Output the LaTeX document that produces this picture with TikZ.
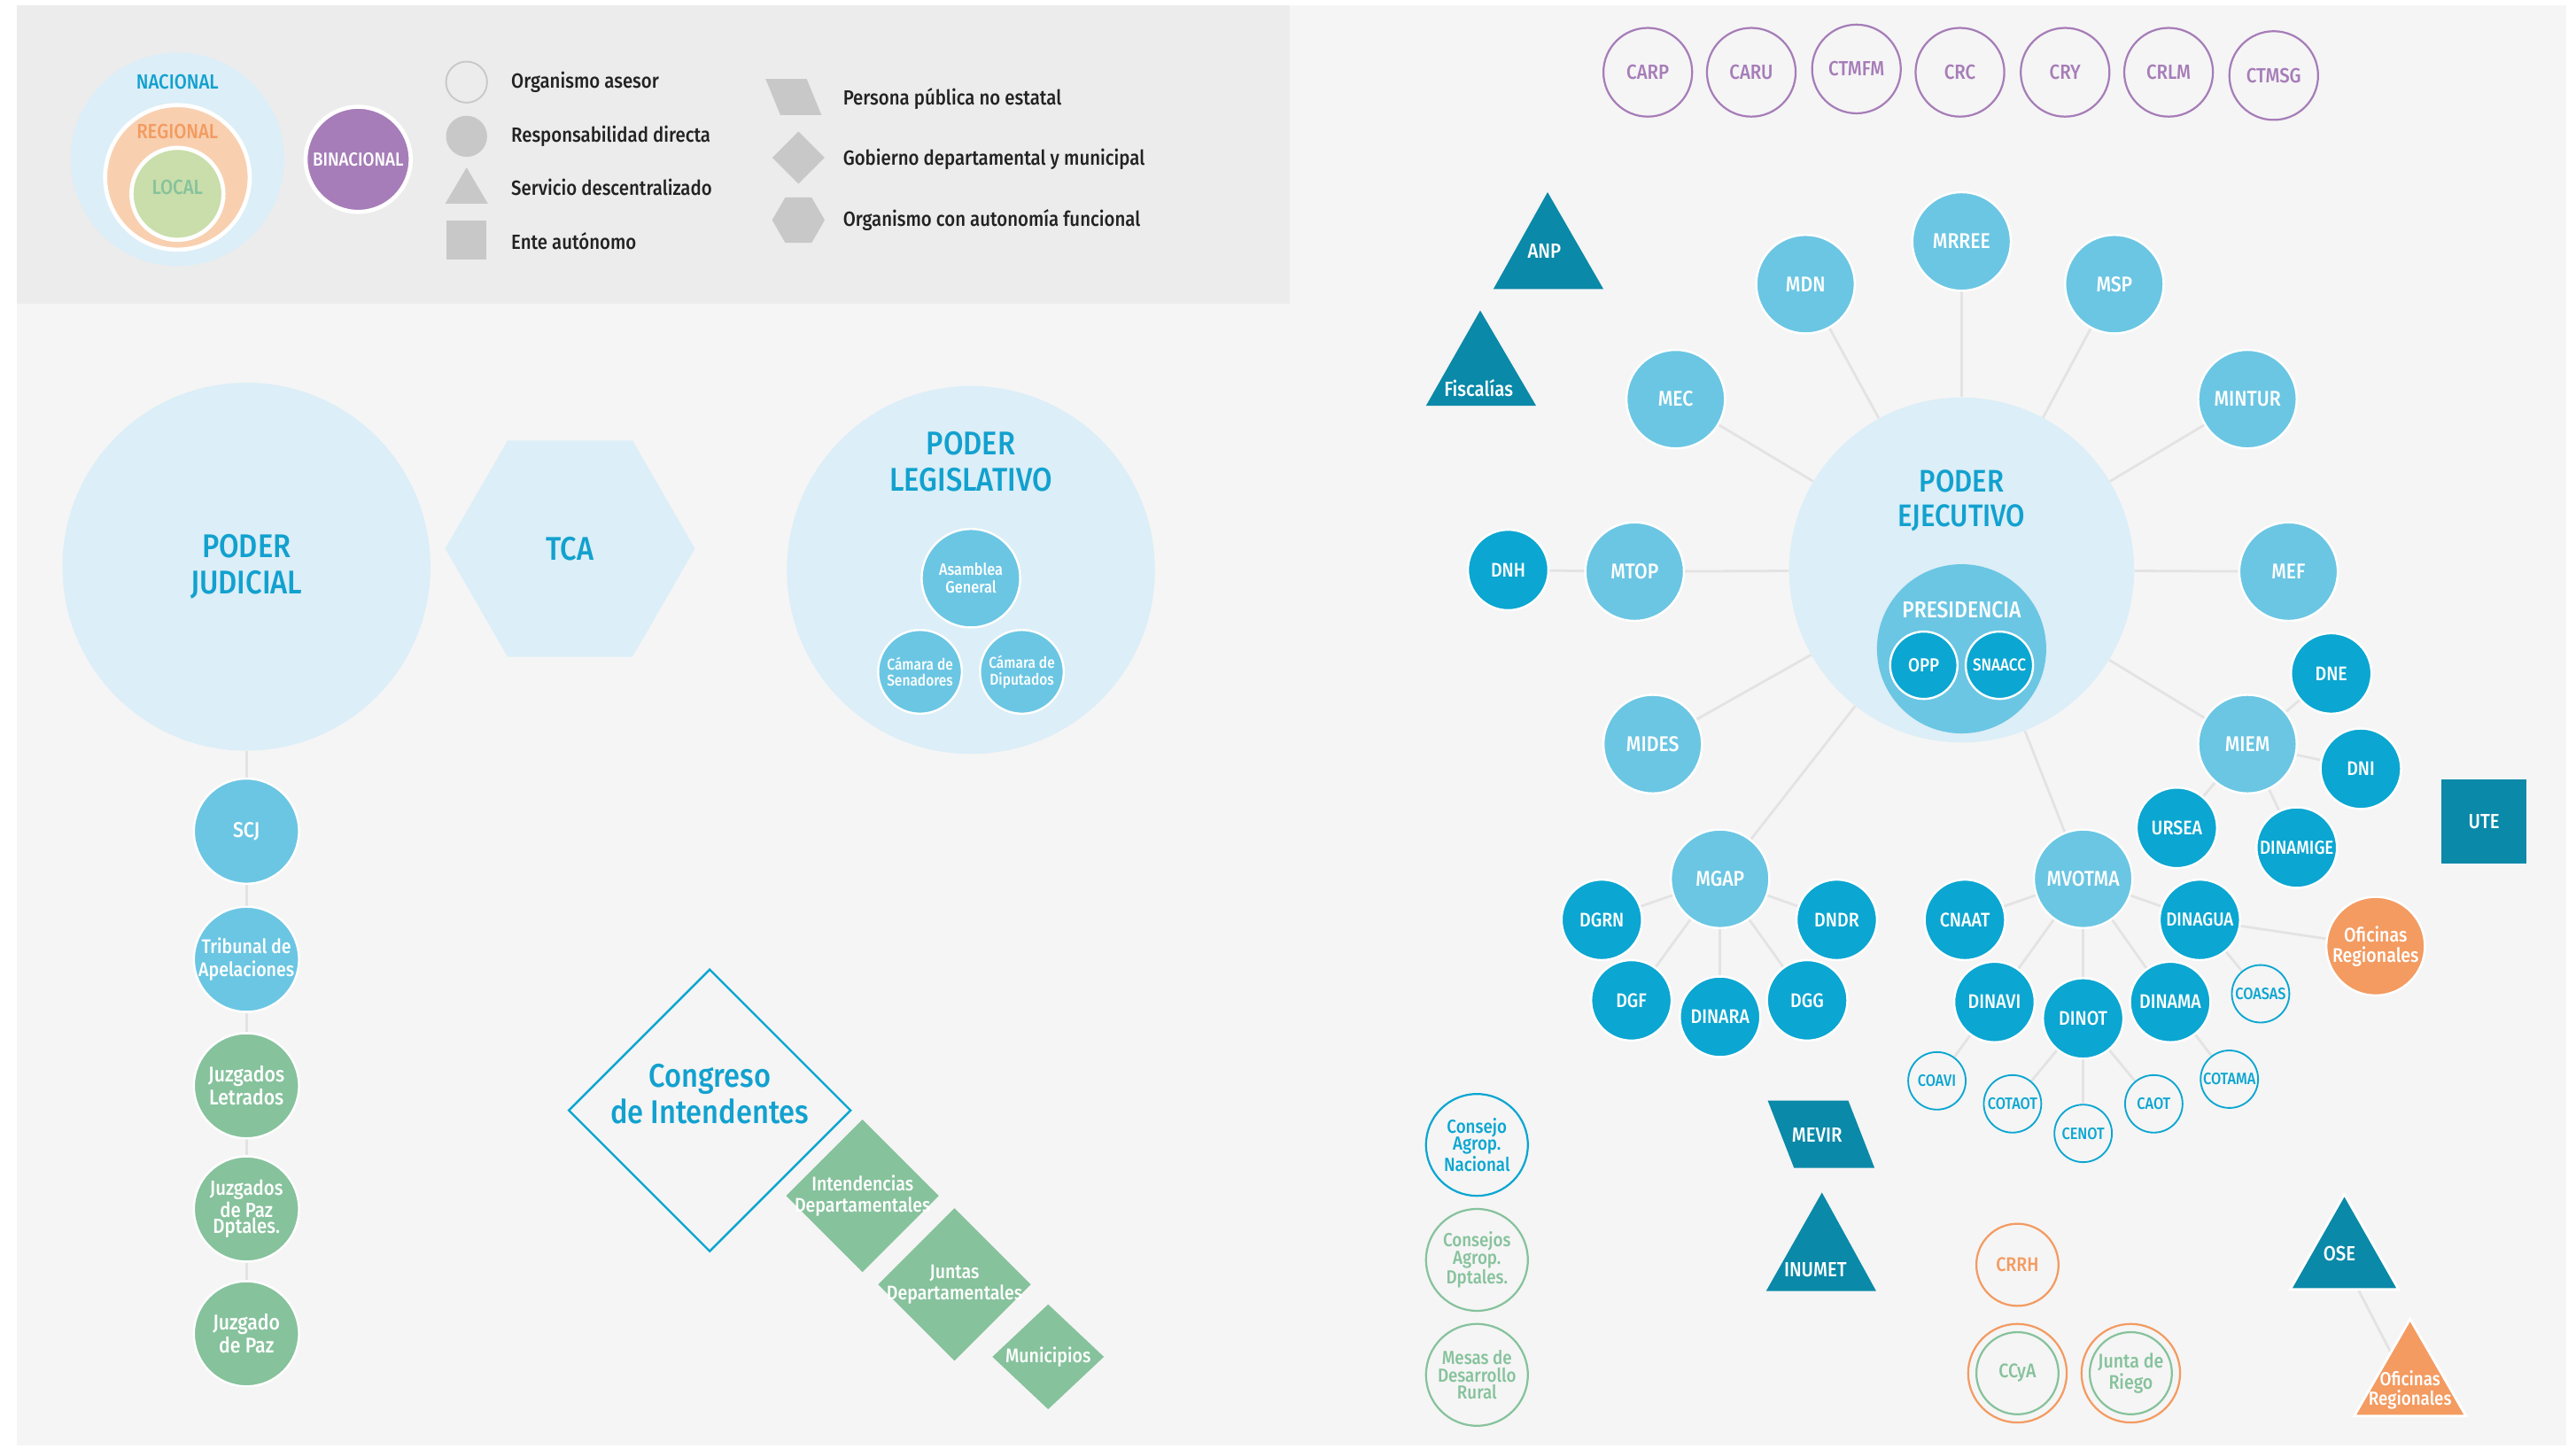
\documentclass[tikz,border=0pt]{standalone}
\usepackage{fontspec}
\setmainfont{Fira Sans}[FakeStretch=0.88, UprightFont={* Medium}]
\usetikzlibrary{shapes.geometric}

\definecolor{cfondo}{HTML}{F5F5F5}
\definecolor{cleyenda}{HTML}{ECECEC}
\definecolor{celeste}{HTML}{DCEEF7}
\definecolor{medio}{HTML}{6BC6E3}
\definecolor{oscuro}{HTML}{0BA6D1}
\definecolor{petroleo}{HTML}{0A89A8}
\definecolor{verde}{HTML}{86C29C}
\definecolor{naranja}{HTML}{F39B61}
\definecolor{violeta}{HTML}{A67DB8}
\definecolor{azul}{HTML}{12A1CF}
\definecolor{linea}{HTML}{E3E3E3}
\definecolor{gris}{HTML}{C8C8C8}
\definecolor{durazno}{HTML}{F8D0B0}
\definecolor{verdeclaro}{HTML}{C9DEAA}
\definecolor{negro}{HTML}{222222}

\newcommand\fsz[2]{\fontsize{#1}{#2}\selectfont}

\pgfdeclarelayer{fondo}
\pgfdeclarelayer{lineas}
\pgfsetlayers{fondo,lineas,main}

\begin{document}
\begin{tikzpicture}[x=1pt, y=-1pt, every node/.style={inner sep=0pt, align=center},
    titulo/.style={text=azul, font=\fsz{20}{22}},
    mini/.style={circle, fill=medio, draw=white, line width=1.3pt, minimum size=60pt, text=white, font=\fsz{13}{14}},
    dir/.style={mini, fill=oscuro, minimum size=49pt, font=\fsz{12}{13}},
    com/.style={circle, draw=oscuro, line width=1pt, fill=cfondo, minimum size=35pt, text=oscuro, font=\fsz{10}{11}},
    bina/.style={circle, draw=violeta, line width=1.2pt, minimum size=54pt, text=violeta, font=\fsz{12.5}{13}},
    consejo/.style={circle, line width=1.2pt, fill=cfondo, minimum size=62pt, font=\fsz{11.5}{10.5}},
    anillo/.style={circle, draw=naranja, line width=1.2pt, fill=cfondo, minimum size=60pt, text=verde, font=\fsz{12}{13},
      path picture={\draw[verde, line width=1.2pt] (path picture bounding box.center) circle (25pt);}},
    rombo/.style={diamond, inner sep=-6pt, fill=verde, aspect=1, text=white, font=\fsz{12}{13}},
    etiq/.style={anchor=west, text=negro, font=\fsz{12.5}{13}},
    blanco/.style={text=white, font=\fsz{12.5}{13}},
    conexion/.style={draw=linea, line width=1.5pt}]

  \begin{pgfonlayer}{fondo}
    \fill[white] (0,0) rectangle (1568,882);
    \fill[cfondo] (10,3) rectangle (1562,880);
    \fill[cleyenda] (10,3) rectangle (785,185);
  \end{pgfonlayer}
  \useasboundingbox (0,0) rectangle (1568,882);

  % leyenda
  \node[circle, fill=celeste, minimum size=130pt] (nacional) at (108,97) {};
  \node[circle, fill=durazno, draw=white, line width=2.5pt, minimum size=88pt] (regional) at (108,108) {};
  \node[circle, fill=verdeclaro, draw=white, line width=2.5pt, minimum size=56pt] (local) at (108,118) {};
  \node[text=azul, font=\fsz{12.5}{13}] (nacional-t) at (108,50) {NACIONAL};
  \node[text=naranja, font=\fsz{12.5}{13}] (regional-t) at (108,80) {REGIONAL};
  \node[text=verde, font=\fsz{12.5}{13}] (local-t) at (108,114) {LOCAL};
  \node[circle, fill=violeta, draw=white, line width=2.5pt, minimum size=64pt, text=white, font=\fsz{11.5}{12}] (binacional) at (218,97) {BINACIONAL};

  \node[circle, draw=gris, line width=1pt, minimum size=25pt] (l-asesor) at (284,50) {};
  \node[circle, fill=gris, minimum size=25pt] (l-directa) at (284,83) {};
  \fill[gris] (284,102) -- (297,124) -- (271,124) -- cycle;
  \node[rectangle, fill=gris, minimum size=24pt] (l-ente) at (284,146) {};
  \node[etiq] (t-asesor) at (311,50) {Organismo asesor};
  \node[etiq] (t-directa) at (311,83) {Responsabilidad directa};
  \node[etiq] (t-servicio) at (311,114) {Servicio descentralizado};
  \node[etiq] (t-ente) at (311,147) {Ente autónomo};

  \fill[gris] (466,48) -- (491,48) -- (500,70) -- (475,70) -- cycle;
  \node[diamond, fill=gris, minimum width=32pt, minimum height=32pt, aspect=1] (l-gobierno) at (486,96) {};
  \node[regular polygon, regular polygon sides=6, fill=gris, minimum size=32pt] (l-autonomia) at (486,134) {};
  \node[etiq] (t-persona) at (513,60) {Persona pública no estatal};
  \node[etiq] (t-gobierno) at (513,97) {Gobierno departamental y municipal};
  \node[etiq] (t-autonomia) at (513,134) {Organismo con autonomía funcional};

  % binacionales
  \node[bina] (carp) at (1003,44) {CARP};
  \node[bina] (caru) at (1066,44) {CARU};
  \node[bina] (ctmfm) at (1130,42) {CTMFM};
  \node[bina] (crc) at (1193,44) {CRC};
  \node[bina] (cry) at (1257,44) {CRY};
  \node[bina] (crlm) at (1320,44) {CRLM};
  \node[bina] (ctmsg) at (1384,46) {CTMSG};

  % poder judicial
  \node[circle, fill=celeste, minimum size=224pt, titulo] (judicial) at (150,345) {PODER\\JUDICIAL};
  \node[mini, minimum size=64pt] (scj) at (150,506) {SCJ};
  \node[mini, minimum size=64pt, inner sep=-3pt, font=\fsz{12}{14}] (tribunal) at (150,584) {Tribunal de\\Apelaciones};
  \node[mini, fill=verde, minimum size=64pt] (letrados) at (150,661) {Juzgados\\Letrados};
  \node[mini, fill=verde, minimum size=64pt, font=\fsz{12.5}{10}] (pazdptal) at (150,736) {Juzgados\\de Paz\\Dptales.};
  \node[mini, fill=verde, minimum size=64pt] (paz) at (150,812) {Juzgado\\de Paz};

  \node[regular polygon, regular polygon sides=6, fill=celeste, minimum size=152pt, titulo] (tca) at (347,334) {TCA};

  % poder legislativo
  \node[circle, fill=celeste, minimum size=224pt] (legislativo) at (591,347) {};
  \node[titulo] (legislativo-t) at (591,281) {PODER\\LEGISLATIVO};
  \node[mini, font=\fsz{10}{11}] (asamblea) at (591,352) {Asamblea\\General};
  \node[mini, minimum size=51pt, font=\fsz{9.5}{10}] (senadores) at (560,409) {Cámara de\\Senadores};
  \node[mini, minimum size=51pt, font=\fsz{9.5}{10}] (diputados) at (622,409) {Cámara de\\Diputados};

  % gobierno departamental
  \node[diamond, draw=oscuro, line width=1.3pt, minimum width=172pt, minimum height=172pt, aspect=1] (congreso) at (432,676) {};
  \node[titulo] (congreso-t) at (432,666) {Congreso\\de Intendentes};
  \node[rombo, minimum width=93pt, minimum height=93pt] (intendencias) at (525,728) {Intendencias\\Departamentales};
  \node[rombo, minimum width=93pt, minimum height=93pt] (juntas) at (581,782) {Juntas\\Departamentales};
  \node[rombo, minimum width=68pt, minimum height=64pt] (municipios) at (638,826) {Municipios};

  % poder ejecutivo
  \node[circle, fill=celeste, minimum size=210pt] (ejecutivo) at (1194,347) {};
  \node[titulo, font=\fsz{19}{21}] (ejecutivo-t) at (1194,305) {PODER\\EJECUTIVO};
  \node[circle, fill=medio, minimum size=103pt] (presidencia) at (1194,395) {};
  \node[blanco, font=\fsz{14}{15}] (presidencia-t) at (1194,371) {PRESIDENCIA};
  \node[dir, minimum size=41pt, font=\fsz{11.5}{12}] (opp) at (1171,405) {OPP};
  \node[dir, minimum size=41pt, font=\fsz{10.5}{12}] (snaacc) at (1217,405) {SNAACC};

  \node[mini] (mrree) at (1194,147) {MRREE};
  \node[mini] (mdn) at (1099,173) {MDN};
  \node[mini] (msp) at (1287,173) {MSP};
  \node[mini] (mec) at (1020,243) {MEC};
  \node[mini] (mintur) at (1368,243) {MINTUR};
  \node[mini] (mtop) at (995,348) {MTOP};
  \node[mini] (mef) at (1393,348) {MEF};
  \node[mini] (mides) at (1006,453) {MIDES};
  \node[mini] (miem) at (1368,453) {MIEM};
  \node[mini] (mgap) at (1047,535) {MGAP};
  \node[mini] (mvotma) at (1268,535) {MVOTMA};

  \node[dir] (dnh) at (918,347) {DNH};
  \node[dir] (dne) at (1419,410) {DNE};
  \node[dir] (dni) at (1437,468) {DNI};
  \node[dir] (ursea) at (1325,504) {URSEA};
  \node[dir, font=\fsz{11.5}{12}] (dinamige) at (1398,516) {DINAMIGE};

  \node[dir] (dgrn) at (975,560) {DGRN};
  \node[dir] (dndr) at (1118,560) {DNDR};
  \node[dir] (dgf) at (993,609) {DGF};
  \node[dir] (dinara) at (1047,619) {DINARA};
  \node[dir] (dgg) at (1100,609) {DGG};

  \node[dir] (cnaat) at (1196,560) {CNAAT};
  \node[dir, font=\fsz{11.5}{12}] (dinagua) at (1339,560) {DINAGUA};
  \node[dir] (dinavi) at (1214,610) {DINAVI};
  \node[dir] (dinot) at (1268,620) {DINOT};
  \node[dir] (dinama) at (1321,610) {DINAMA};
  \node[mini, fill=naranja, font=\fsz{12}{12.5}] (oficinas) at (1446,576) {Oficinas\\Regionales};

  \node[com] (coasas) at (1376,605) {COASAS};
  \node[com] (coavi) at (1179,658) {COAVI};
  \node[com] (cotaot) at (1225,672) {COTAOT};
  \node[com] (cenot) at (1268,690) {CENOT};
  \node[com] (caot) at (1311,672) {CAOT};
  \node[com] (cotama) at (1357,657) {COTAMA};

  % entes y servicios
  \fill[petroleo] (942,117) -- (976,176) -- (909,176) -- cycle;
  \node[blanco] (anp) at (940,153) {ANP};
  \fill[petroleo] (901,189) -- (935,247) -- (868,247) -- cycle;
  \node[blanco] (fiscalias) at (900,236) {Fiscalías};
  \node[rectangle, fill=petroleo, minimum width=52pt, minimum height=51pt, blanco] (ute) at (1512,500) {UTE};
  \fill[petroleo] (1076,670) -- (1125,670) -- (1141,711) -- (1092,711) -- cycle;
  \node[blanco] (mevir) at (1106,691) {MEVIR};
  \fill[petroleo] (1109,726) -- (1142,786) -- (1075,786) -- cycle;
  \node[blanco] (inumet) at (1105,773) {INUMET};
  \filldraw[petroleo, draw=white, line width=1.5pt] (1427,727) -- (1460,785) -- (1394,785) -- cycle;
  \node[blanco] (ose) at (1424,763) {OSE};
  \filldraw[naranja, draw=white, line width=1.5pt] (1467,803) -- (1501,862) -- (1433,862) -- cycle;
  \node[blanco, font=\fsz{11.5}{12}] (oficinas-ose) at (1467,846) {Oficinas\\Regionales};

  % consejos
  \node[consejo, draw=oscuro, text=oscuro] (canacional) at (899,697) {Consejo\\Agrop.\\Nacional};
  \node[consejo, draw=verde, text=verde] (cadptales) at (899,767) {Consejos\\Agrop.\\Dptales.};
  \node[consejo, draw=verde, text=verde] (mesas) at (899,837) {Mesas de\\Desarrollo\\Rural};
  \node[circle, draw=naranja, line width=1.2pt, minimum size=50pt, text=naranja, font=\fsz{12}{13}] (crrh) at (1228,770) {CRRH};
  \node[anillo] (ccya) at (1228,836) {CCyA};
  \node[anillo] (riego) at (1297,836) {Junta de\\Riego};

  \begin{pgfonlayer}{lineas}
    \path[conexion]
    (judicial) edge (scj)
    (scj) edge (tribunal)
    (tribunal) edge (letrados)
    (letrados) edge (pazdptal)
    (pazdptal) edge (paz)
    (ejecutivo) edge (mrree)
      edge (mdn)
      edge (msp)
      edge (mec)
      edge (mintur)
      edge (mtop)
      edge (mef)
      edge (mides)
      edge (miem)
      edge (mgap)
      edge (mvotma)
    (mtop) edge (dnh)
    (miem) edge (dne)
      edge (dni)
      edge (ursea)
      edge (dinamige)
    (mgap) edge (dgrn)
      edge (dndr)
      edge (dgf)
      edge (dinara)
      edge (dgg)
    (mvotma) edge (cnaat)
      edge (dinagua)
      edge (dinavi)
      edge (dinot)
      edge (dinama)
    (dinagua) edge (oficinas)
      edge (coasas)
    (dinavi) edge (coavi)
    (dinot) edge (cotaot)
      edge (cenot)
      edge (caot)
    (dinama) edge (cotama)
    (ose) edge (oficinas-ose);
  \end{pgfonlayer}
\end{tikzpicture}
\end{document}
